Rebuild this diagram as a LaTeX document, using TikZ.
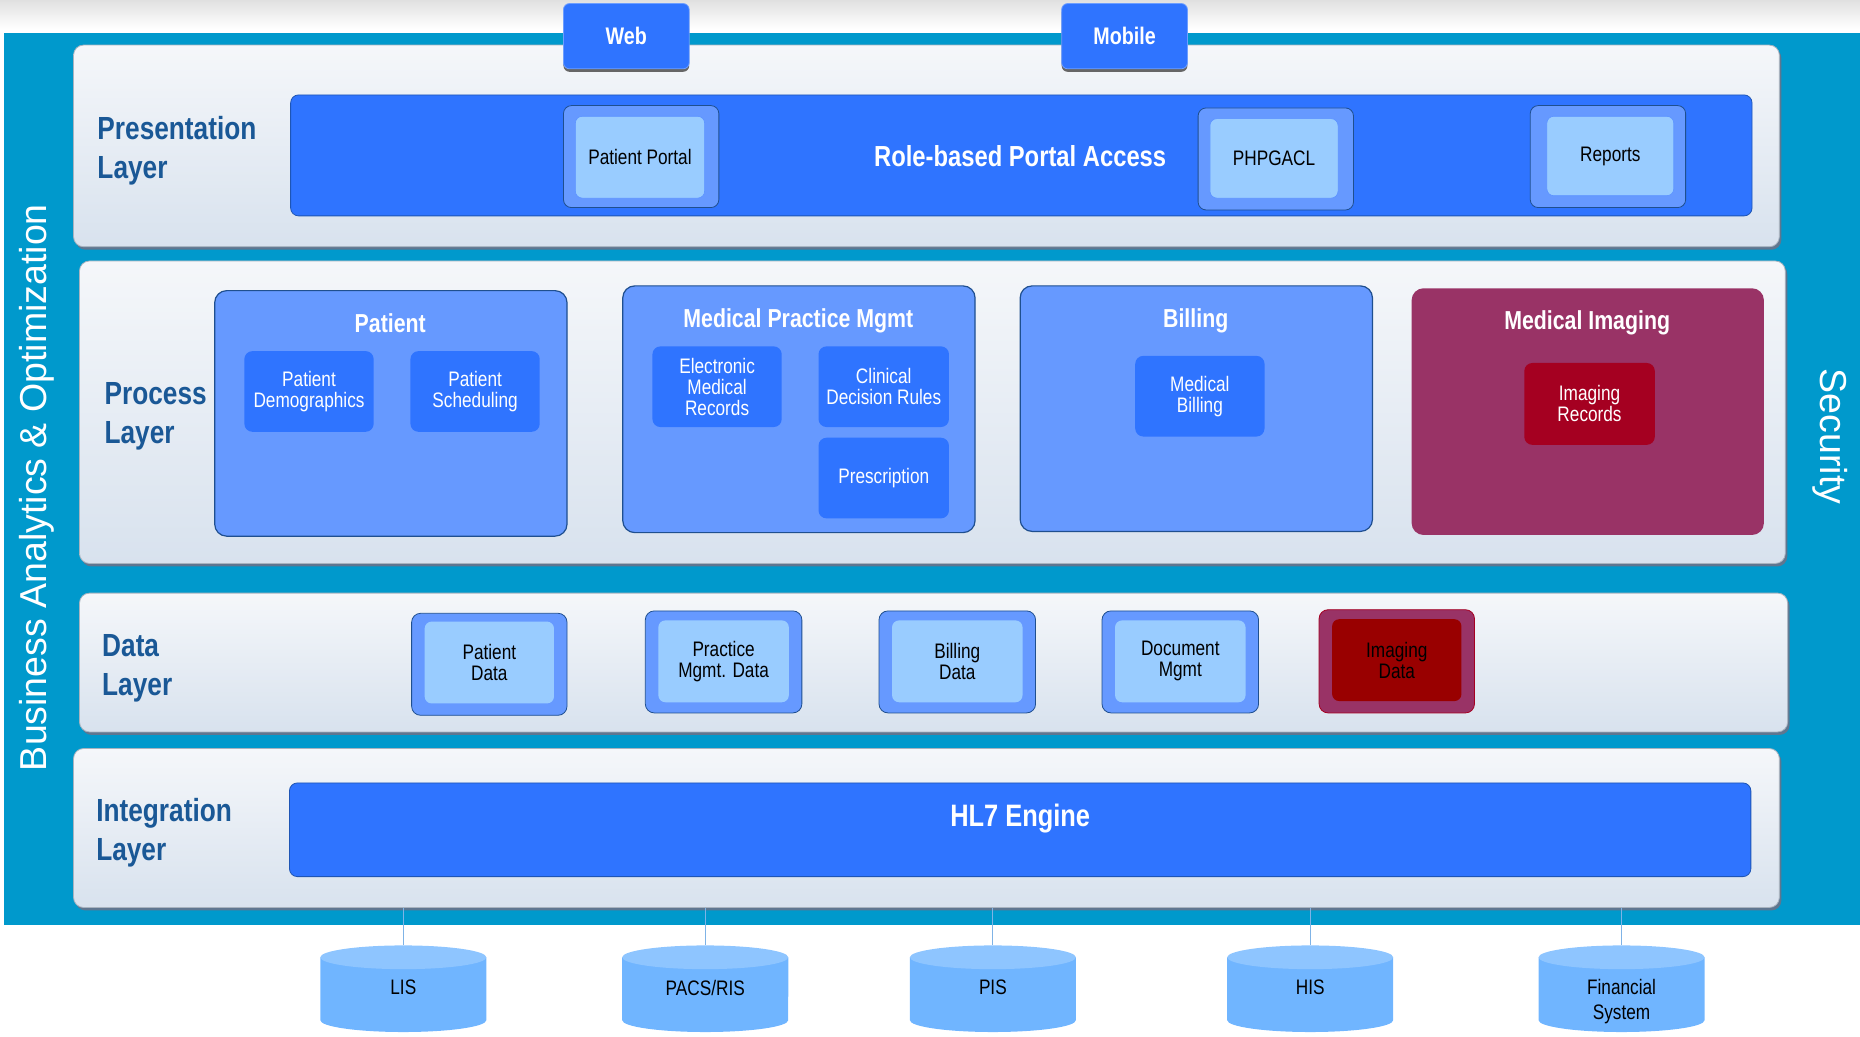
\documentclass[tikz,border=0pt]{standalone}
\usepackage{fontspec}
\setmainfont{Liberation Sans}[FakeStretch=0.82]
\newfontfamily\widefont{Liberation Sans}
\usetikzlibrary{fit,shadows}
\newcommand\fsz[2]{\fontsize{#1}{#2}\selectfont}
\definecolor{tealbg}{HTML}{0099CC}
\definecolor{panelTop}{HTML}{F5F7FA}
\definecolor{panelBot}{HTML}{D8E2EE}
\definecolor{panelEdge}{HTML}{A8B3BF}
\definecolor{panelShadow}{HTML}{5F7690}
\definecolor{bright}{HTML}{2F74FF}
\definecolor{brightEdge}{HTML}{1E55B5}
\definecolor{midblue}{HTML}{6699FF}
\definecolor{lightblue}{HTML}{99CCFF}
\definecolor{darkEdge}{HTML}{1F4F8F}
\definecolor{labelBlue}{HTML}{1A5896}
\definecolor{imgBox}{HTML}{993366}
\definecolor{imgRec}{HTML}{A50021}
\definecolor{imgData}{HTML}{990000}
\definecolor{cylBody}{HTML}{70B5FF}
\definecolor{cylTop}{HTML}{8EC5FF}
\definecolor{lineC}{HTML}{7FB3E6}
\newcommand\cyl[1]{%
  \fill[cylBody] (#1-70,807) -- (#1-70,860) arc[start angle=180,end angle=360,x radius=83.03pt,y radius=11.86pt] -- (#1+70,807) -- cycle;
  \fill[cylTop] (#1,807) ellipse[x radius=83.03pt,y radius=11.86pt];}
\begin{document}
\begin{tikzpicture}[x=1.1862pt,y=-1.1862pt,
  every node/.style={inner sep=0pt},
  panel/.style={rounded corners=10pt,top color=panelTop,bottom color=panelBot,draw=panelEdge,line width=0.8pt,
    drop shadow={shadow xshift=2pt,shadow yshift=-3pt,fill=panelShadow,opacity=1}},
  tabtext/.style={text=white,font=\bfseries\fsz{24}{28}},
  tab/.style={rounded corners=6pt,fill=bright,draw=bright!70!white,line width=0.8pt,
    drop shadow={shadow xshift=0pt,shadow yshift=-3pt,fill=black!60,opacity=1},
    label={[tabtext]center:#1}},
  bar/.style={rounded corners=8pt,fill=bright,draw=brightEdge,line width=0.8pt},
  outerbox/.style={rounded corners=8pt,fill=midblue,draw=darkEdge,line width=0.8pt},
  innertext/.style={text=black,font=\fsz{21}{21},align=center},
  innerbox/.style={rounded corners=7pt,fill=lightblue,draw=midblue!80!bright,line width=0.6pt,
    label={[innertext]center:#1}},
  group/.style={rounded corners=12pt,fill=midblue,draw=darkEdge,line width=1.2pt},
  grouptitle/.style={text=white,font=\bfseries\fsz{26}{30}},
  subtext/.style={text=white,font=\fsz{21}{21},align=center},
  sub/.style={rounded corners=8pt,fill=bright,label={[subtext]center:#1}},
  lbl/.style={anchor=west,align=left,text=labelBlue,font=\bfseries\fsz{32}{39}},
  bartext/.style={text=white,font=\bfseries\fsz{29}{33}},
  cyltext/.style={text=black,font=\fsz{21}{25},align=center},
  conn/.style={draw=lineC,line width=1pt}]
\useasboundingbox (0,0) rectangle (1568,874);
\shade[top color=black!12,bottom color=white] (0,0) rectangle (1568,24);
\fill[tealbg] (3,28) rectangle (1568,780);
\node[rotate=90,text=white,font=\widefont\fsz{37.5}{40}] (bao) at (31,411) {Business Analytics \& Optimization};
\node[rotate=-90,text=white,font=\widefont\fsz{37.5}{40}] (sec) at (1543,368) {Security};
% panels
\node[panel,fit={(62,38) (1500,208)}] (pres) {};
\node[panel,fit={(67,220) (1505,475)}] (proc) {};
\node[panel,fit={(67,500) (1507,617)}] (data) {};
\node[panel,fit={(62,631) (1500,765)}] (integ) {};
% tabs
\node[tab=Web,fit={(475,3) (581,58)}] (web) {};
\node[tab=Mobile,fit={(895,3) (1001,58)}] (mobile) {};
% layer labels
\node[lbl] (lpres) at (82,127) {Presentation\\Layer};
\node[lbl] (lproc) at (88,351) {Process\\Layer};
\node[lbl] (ldata) at (86,563) {Data\\Layer};
\node[lbl] (linteg) at (81,702) {Integration\\Layer};
% presentation
\node[bar,fit={(245,80) (1477,182)}] (portal) {};
\node[bartext] (portaltxt) at (860,131.5) {Role-based Portal Access};
\node[outerbox,fit={(475,89) (606,175)}] (ppO) {};
\node[innerbox={Patient Portal},fit={(485,98) (594,167)}] (pp) {};
\node[outerbox,fit={(1010,91) (1141,177)}] (phpO) {};
\node[innerbox=PHPGACL,fit={(1020,100) (1128,167)}] (php) {};
\node[outerbox,fit={(1290,89) (1421,175)}] (repO) {};
\node[innerbox=Reports,fit={(1304,98) (1411,165)}] (rep) {};
% process
\node[group,fit={(181,245) (478,452)}] (patient) {};
\node[grouptitle] (patientT) at (329,272.5) {Patient};
\node[sub={Patient\\Demographics},fit={(206,296) (315,364)}] (demo) {};
\node[sub={Patient\\Scheduling},fit={(346,296) (455,364)}] (sched) {};
\node[group,fit={(525,241) (822,449)}] (mpm) {};
\node[grouptitle] (mpmT) at (673,270.5) {Medical Practice Mgmt};
\node[sub={Electronic\\Medical\\Records},fit={(550,292) (659,360)}] (emr) {};
\node[sub={Clinical\\Decision Rules},fit={(690,292) (800,360)}] (cdr) {};
\node[sub=Prescription,fit={(690,369) (800,437)}] (presc) {};
\node[group,fit={(860,241) (1157,448)}] (billing) {};
\node[grouptitle] (billingT) at (1008,270.5) {Billing};
\node[sub={Medical\\Billing},fit={(957,300) (1066,368)}] (mbill) {};
\node[group,fill=imgBox,draw=none,fit={(1190,243) (1487,451)}] (mi) {};
\node[grouptitle] (miT) at (1338,272.5) {Medical Imaging};
\node[sub={Imaging\\Records},fill=imgRec,fit={(1285,306) (1395,375)}] (imgrec) {};
% data
\node[outerbox,rounded corners=9pt,fit={(347,517) (478,603)}] (pdO) {};
\node[innerbox={Patient\\Data},draw=none,fit={(358,524) (467,593)}] (pd) {};
\node[outerbox,rounded corners=9pt,fit={(544,515) (676,601)}] (pmdO) {};
\node[innerbox={Practice\\Mgmt. Data},draw=none,fit={(555,523) (665,592)}] (pmd) {};
\node[outerbox,rounded corners=9pt,fit={(741,515) (873,601)}] (bdO) {};
\node[innerbox={Billing\\Data},draw=none,fit={(752,523) (862,592)}] (bd) {};
\node[outerbox,rounded corners=9pt,fit={(929,515) (1061,601)}] (dmO) {};
\node[innerbox={Document\\Mgmt},draw=none,fit={(940,523) (1050,592)}] (dm) {};
\node[outerbox,rounded corners=9pt,fill=imgBox,draw=imgRec,fit={(1112,514) (1243,601)}] (idO) {};
\node[innerbox={Imaging\\Data},draw=none,fill=imgData,fit={(1123,522) (1232,591)}] (id) {};
% integration
\node[bar,fit={(244,660) (1476,739)}] (hl7) {};
\node[bartext,font=\bfseries\fsz{31}{35}] (hl7T) at (860,690) {HL7 Engine};
% external systems
\cyl{340}\cyl{594.5}\cyl{837}\cyl{1104.5}\cyl{1367}
\node[fit={(270,797) (410,870)}] (lis) {};
\node[fit={(524.5,797) (664.5,870)}] (pacs) {};
\node[fit={(767,797) (907,870)}] (pis) {};
\node[fit={(1034.5,797) (1174.5,870)}] (his) {};
\node[fit={(1297,797) (1437,870)}] (fin) {};
\node[cyltext] (lisT) at (340,832.5) {LIS};
\node[cyltext] (pacsT) at (594.5,832.5) {PACS/RIS};
\node[cyltext] (pisT) at (837,832.5) {PIS};
\node[cyltext] (hisT) at (1104.5,832.5) {HIS};
\node[cyltext] (finT) at (1367,844) {Financial\\System};
\foreach \n in {lis,pacs,pis,his,fin}
  \draw[conn] (\n.north |- integ.south) -- (\n.north);
\end{tikzpicture}
\end{document}
